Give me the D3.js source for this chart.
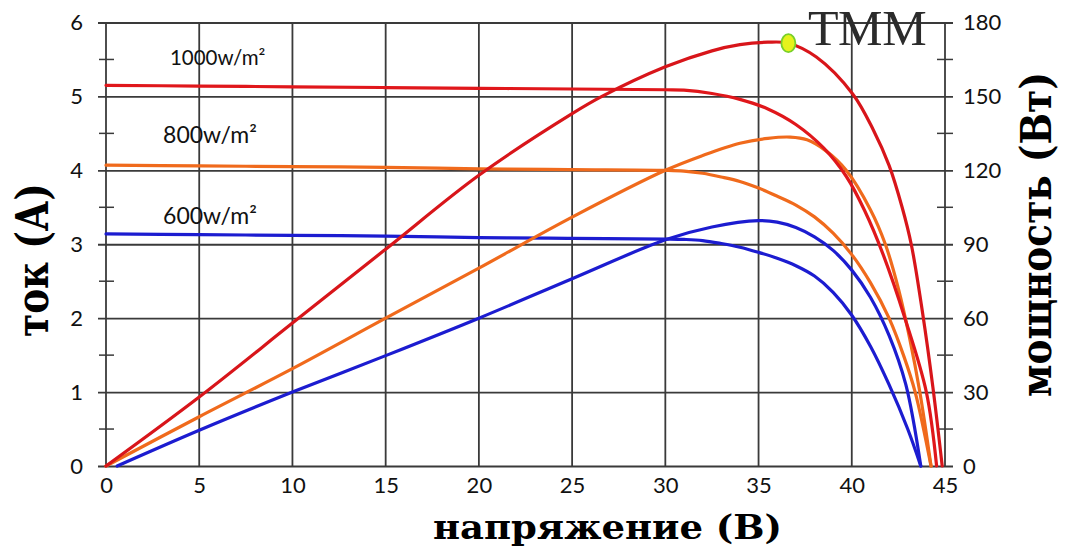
<!DOCTYPE html>
<html>
<head>
<meta charset="utf-8">
<script src="https://cdn.jsdelivr.net/npm/d3@7"></script>
<style>
  html, body { margin: 0; padding: 0; background: #fff; }
  svg { display: block; }
</style>
</head>
<body>
<svg id="chart" width="1066" height="554"></svg>
<script>
// Axis ticks
const voltageTicks = [0, 5, 10, 15, 20, 25, 30, 35, 40, 45];
const currentTicks = [0, 1, 2, 3, 4, 5, 6];
const currentMinorTicks = [0.5, 1.5, 2.5, 3.5, 4.5, 5.5];
const powerTicks = [0, 30, 60, 90, 120, 150, 180];

// Irradiance labels
const irradianceLabels = ["1000w/m²", "800w/m²", "600w/m²"];

// I-V curve, 1000 W/m²
const volt1000I = [0, 5, 10, 15, 20, 25, 30, 31, 32.5, 34, 35.5, 37, 38.5, 39.7, 40.7, 41.7, 42.85, 44.0, 44.55];
const curr1000 = [5.15, 5.14, 5.13, 5.12, 5.11, 5.10, 5.09, 5.085, 5.04, 4.96, 4.83, 4.62, 4.30, 3.92, 3.45, 2.85, 2.0, 1.0, 0];
// P-V curve, 1000 W/m²
const volt1000P = [0, 5, 10, 15, 20, 25, 26.6, 30, 32.5, 34, 35.5, 36.6, 38.1, 40.05, 41.15, 42.0, 42.7, 43.2, 43.8, 44.35, 44.85];
const power1000 = [0, 28, 58, 88, 118, 143, 150, 162, 168.5, 171, 172, 171.6, 166, 151, 136.5, 122, 105, 89.6, 62, 32, 0];

// I-V curve, 800 W/m²
const volt800I = [0, 5, 10, 15, 20, 25, 30, 31, 32, 33, 34, 35, 36, 37, 38, 39, 40, 41, 42, 42.8, 43.4, 44.25];
const curr800 = [4.07, 4.06, 4.05, 4.04, 4.02, 4.01, 4.0, 3.99, 3.96, 3.91, 3.85, 3.76, 3.65, 3.53, 3.37, 3.15, 2.86, 2.48, 2.0, 1.48, 1.0, 0];
// P-V curve, 800 W/m²
const volt800P = [0, 5, 10, 15, 20, 25, 30, 32, 34, 35.5, 36.7, 37.6, 38.6, 39.7, 41.0, 41.8, 42.5, 43.1, 43.65, 44.25];
const power800 = [0, 20, 39.5, 60, 80.3, 101, 120, 126, 131, 133, 133.5, 132.4, 128, 120, 104, 90, 72, 52, 30, 0];

// I-V curve, 600 W/m²
const volt600I = [0, 5, 10, 15, 20, 25, 30, 31, 32, 33, 34, 35, 36, 37, 38, 39, 40, 41, 42, 43, 43.7];
const curr600 = [3.14, 3.13, 3.12, 3.11, 3.09, 3.08, 3.07, 3.065, 3.05, 3.01, 2.96, 2.89, 2.81, 2.71, 2.57, 2.35, 2.04, 1.62, 1.1, 0.5, 0];
// P-V curve, 600 W/m²
const volt600P = [0.6, 5, 10, 15, 20, 25, 30, 32.5, 35, 36, 37, 38, 39, 40, 41, 42, 42.9, 43.7];
const power600 = [0, 14.5, 30, 44.8, 60, 76, 91.8, 97, 99.6, 99, 96.8, 93, 87.5, 79.5, 68.5, 53, 33, 0];

// Maximum power point (ТММ) on the 1000 W/m² power curve
const mppVoltage = 36.6;
const mppPower = 171.6;

const svg = d3.select("#chart");
svg.append("rect").attr("width", 1066).attr("height", 554).attr("fill", "#fff");

const plot = { left: 106, right: 945, top: 22.5, bottom: 466 };

const x = d3.scaleLinear().domain([0, 45]).range([plot.left, plot.right]);
const yI = d3.scaleLinear().domain([0, 6]).range([plot.bottom, plot.top]);
const yP = d3.scaleLinear().domain([0, 180]).range([plot.bottom, plot.top]);

const gridColor = "#3a3a3a";
const tickFont = "Lato, 'DejaVu Sans', sans-serif";

// Horizontal grid + left ticks (extend 8px beyond both sides)
const leftAxis = d3.axisLeft(yI)
  .tickValues(currentTicks)
  .tickFormat(d3.format("d"))
  .tickSizeInner(-(plot.right - plot.left + 16))
  .tickSizeOuter(0)
  .tickPadding(15);
const gLeft = svg.append("g")
  .attr("transform", `translate(${plot.left - 8},0)`)
  .call(leftAxis);
gLeft.select(".domain").remove();
gLeft.selectAll(".tick line").attr("stroke", gridColor).attr("stroke-width", 1.8);
gLeft.selectAll(".tick text")
  .attr("font-family", tickFont).attr("font-size", 22).attr("fill", "#111");

// Vertical grid
svg.append("g").selectAll("line")
  .data(voltageTicks)
  .join("line")
  .attr("x1", d => x(d)).attr("x2", d => x(d))
  .attr("y1", plot.top).attr("y2", plot.bottom)
  .attr("stroke", gridColor).attr("stroke-width", 1.8);

// Bottom axis labels
const bottomAxis = d3.axisBottom(x)
  .tickValues(voltageTicks)
  .tickFormat(d3.format("d"))
  .tickSize(0)
  .tickPadding(11);
const gBottom = svg.append("g")
  .attr("transform", `translate(0,${plot.bottom})`)
  .call(bottomAxis);
gBottom.select(".domain").remove();
gBottom.selectAll(".tick text")
  .attr("font-family", tickFont).attr("font-size", 22).attr("fill", "#111");

// Right axis labels (power)
const rightAxis = d3.axisRight(yP)
  .tickValues(powerTicks)
  .tickFormat(d3.format("d"))
  .tickSize(0)
  .tickPadding(18);
const gRight = svg.append("g")
  .attr("transform", `translate(${plot.right},0)`)
  .call(rightAxis);
gRight.select(".domain").remove();
gRight.selectAll(".tick text")
  .attr("font-family", tickFont).attr("font-size", 22).attr("fill", "#111");

// Minor ticks on both vertical axes
svg.append("g").selectAll("line")
  .data(currentMinorTicks)
  .join("line")
  .attr("x1", plot.left - 7).attr("x2", plot.left + 8)
  .attr("y1", d => yI(d)).attr("y2", d => yI(d))
  .attr("stroke", gridColor).attr("stroke-width", 1.5);
svg.append("g").selectAll("line")
  .data(currentMinorTicks)
  .join("line")
  .attr("x1", plot.right - 8).attr("x2", plot.right + 8)
  .attr("y1", d => yI(d)).attr("y2", d => yI(d))
  .attr("stroke", gridColor).attr("stroke-width", 1.5);

// Curves
const zip = (a, b) => a.map((v, i) => [v, b[i]]);
const smooth = d3.curveCatmullRom.alpha(0.5);
const lineI = d3.line().x(d => x(d[0])).y(d => yI(d[1])).curve(smooth);
const lineP = d3.line().x(d => x(d[0])).y(d => yP(d[1])).curve(smooth);

const red = "#e0171b", orange = "#f06a1c", blue = "#1c1cd0";
const curves = [
  { pts: zip(volt600P, power600), gen: lineP, color: blue },
  { pts: zip(volt600I, curr600), gen: lineI, color: blue },
  { pts: zip(volt800P, power800), gen: lineP, color: orange },
  { pts: zip(volt800I, curr800), gen: lineI, color: orange },
  { pts: zip(volt1000I, curr1000), gen: lineI, color: red },
  { pts: zip(volt1000P, power1000), gen: lineP, color: "#d8151a" }
];
svg.append("g").selectAll("path")
  .data(curves)
  .join("path")
  .attr("d", d => d.gen(d.pts))
  .attr("fill", "none")
  .attr("stroke", d => d.color)
  .attr("stroke-width", 3.2)
  .attr("stroke-linejoin", "round")
  .attr("stroke-linecap", "round");

// Irradiance labels
const labelAnchors = [
  { v: 3.43, i: 5.43, size: 20.5 },
  { v: 3.06, i: 4.37, size: 23 },
  { v: 3.06, i: 3.27, size: 23 }
];
svg.append("g").selectAll("text")
  .data(irradianceLabels)
  .join("text")
  .attr("x", (d, k) => x(labelAnchors[k].v))
  .attr("y", (d, k) => yI(labelAnchors[k].i))
  .attr("font-family", tickFont)
  .attr("font-size", (d, k) => labelAnchors[k].size)
  .attr("fill", "#111")
  .text(d => d);

// Maximum power point marker and its label
svg.append("ellipse")
  .attr("cx", x(mppVoltage)).attr("cy", yP(mppPower))
  .attr("rx", 7).attr("ry", 9)
  .attr("fill", "#e6f21c").attr("stroke", "#78d02a").attr("stroke-width", 1.8);
svg.append("text")
  .attr("x", 808).attr("y", 45)
  .attr("font-family", "'Liberation Serif', 'DejaVu Serif', serif")
  .attr("font-size", 50)
  .attr("fill", "#2b2b2b")
  .text("ТММ");

// Axis titles
const titleFont = "'DejaVu Serif', serif";
svg.append("text")
  .attr("x", 433).attr("y", 539)
  .attr("font-family", titleFont).attr("font-weight", "bold")
  .attr("font-size", 33)
  .attr("textLength", 349).attr("lengthAdjust", "spacingAndGlyphs")
  .attr("fill", "#000")
  .text("напряжение (В)");

svg.append("text")
  .attr("transform", "translate(48,260) rotate(-90)")
  .attr("text-anchor", "middle")
  .attr("font-family", titleFont).attr("font-weight", "bold")
  .attr("font-size", 44)
  .attr("textLength", 154).attr("lengthAdjust", "spacingAndGlyphs")
  .attr("fill", "#000")
  .text("ток (А)");

svg.append("text")
  .attr("transform", "translate(1051,234.5) rotate(-90)")
  .attr("text-anchor", "middle")
  .attr("font-family", titleFont).attr("font-weight", "bold")
  .attr("font-size", 43)
  .attr("textLength", 325).attr("lengthAdjust", "spacingAndGlyphs")
  .attr("fill", "#000")
  .text("мощность (Вт)");
</script>
</body>
</html>
